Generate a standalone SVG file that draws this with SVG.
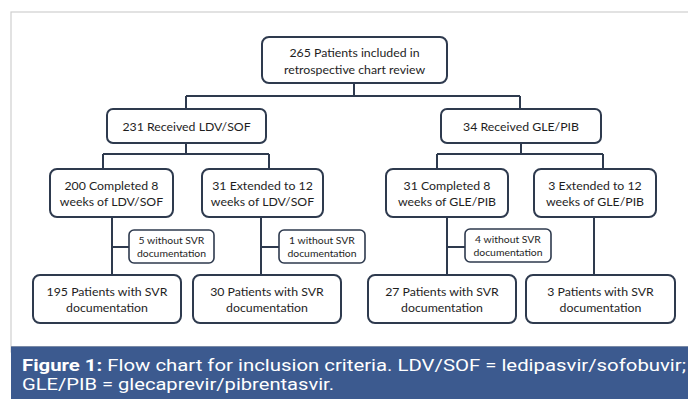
<svg xmlns="http://www.w3.org/2000/svg" width="688" height="399" viewBox="0 0 688 399">
<style>
.box{fill:#fff;stroke:#2e3a4e;stroke-width:2}
.sbox{fill:#fff;stroke:#2e3a4e;stroke-width:1.6}
.t{font-family:Lato,"Open Sans",sans-serif;font-size:12.3px;fill:#1e1e1e;text-anchor:middle}
.s{font-family:Lato,"Open Sans",sans-serif;font-size:10.4px;fill:#1e1e1e;text-anchor:middle}
.c{fill:none;stroke:#2e3a4e;stroke-width:2}
.cap{font-family:Roboto,"Liberation Sans",sans-serif;font-size:16px;fill:#fff}
</style>
<rect x="0" y="0" width="688" height="399" fill="#fff"/>
<rect x="11" y="12" width="690" height="340" fill="#fff" stroke="#cfcfcf" stroke-width="1.2"/>
<rect x="11" y="346.5" width="677" height="53" fill="#3c5a8f"/>
<line x1="11" y1="346.5" x2="688" y2="346.5" stroke="#7a8aa6" stroke-width="1"/>
<g id="connectors">
<path class="c" d="M354,83 V96 M186,96 H520 M186,96 V109 M520,96 V109"/>
<path class="c" d="M186,143 V154 M103,154 H269 M103,154 V169 M269,154 V169"/>
<path class="c" d="M521,143 V154 M437,154 H603 M437,154 V169 M603,154 V169"/>
<path class="c" d="M112,217 V275 M112,247 H129"/>
<path class="c" d="M261,217 V275 M261,247 H279"/>
<path class="c" d="M447,217 V275 M447,247 H465"/>
<path class="c" d="M594,217 V275"/>
</g>
<g id="n265"><rect class="box" x="262" y="37" width="185" height="46" rx="7"/><text class="t" x="354.5" y="57">265 Patients included in</text><text class="t" x="354.5" y="73.5">retrospective chart review</text></g>
<g id="n231"><rect class="box" x="107" y="109" width="159" height="34" rx="6"/><text class="t" x="186.5" y="130.5">231 Received LDV/SOF</text></g>
<g id="n34"><rect class="box" x="441" y="109" width="160" height="34" rx="6"/><text class="t" x="521" y="130.5">34 Received GLE/PIB</text></g>
<g id="n200"><rect class="box" x="50" y="169" width="123" height="48" rx="7"/><text class="t" x="111.5" y="189.5">200 Completed 8</text><text class="t" x="111.5" y="205.5">weeks of LDV/SOF</text></g>
<g id="n31e"><rect class="box" x="202" y="169" width="121" height="48" rx="7"/><text class="t" x="262.5" y="189.5">31 Extended to 12</text><text class="t" x="262.5" y="205.5">weeks of LDV/SOF</text></g>
<g id="n31c"><rect class="box" x="386" y="169" width="122" height="48" rx="7"/><text class="t" x="447" y="189.5">31 Completed 8</text><text class="t" x="447" y="205.5">weeks of GLE/PIB</text></g>
<g id="n3e"><rect class="box" x="534" y="169" width="122" height="48" rx="7"/><text class="t" x="595" y="189.5">3 Extended to 12</text><text class="t" x="595" y="205.5">weeks of GLE/PIB</text></g>
<g id="x5"><rect class="sbox" x="129" y="230" width="85" height="33" rx="5"/><text class="s" x="171.5" y="244">5 without SVR</text><text class="s" x="171.5" y="256.5">documentation</text></g>
<g id="x1"><rect class="sbox" x="279" y="230" width="86" height="33" rx="5"/><text class="s" x="322" y="244">1 without SVR</text><text class="s" x="322" y="256.5">documentation</text></g>
<g id="x4"><rect class="sbox" x="465" y="229" width="86" height="33" rx="5"/><text class="s" x="508" y="243">4 without SVR</text><text class="s" x="508" y="255.5">documentation</text></g>
<g id="n195"><rect class="box" x="33" y="275" width="148" height="48" rx="7"/><text class="t" x="107" y="296">195 Patients with SVR</text><text class="t" x="107" y="312">documentation</text></g>
<g id="n30"><rect class="box" x="193" y="275" width="148" height="48" rx="7"/><text class="t" x="267" y="296">30 Patients with SVR</text><text class="t" x="267" y="312">documentation</text></g>
<g id="n27"><rect class="box" x="368" y="275" width="148" height="48" rx="7"/><text class="t" x="442" y="296">27 Patients with SVR</text><text class="t" x="442" y="312">documentation</text></g>
<g id="n3p"><rect class="box" x="526" y="275" width="149" height="48" rx="7"/><text class="t" x="600.5" y="296">3 Patients with SVR</text><text class="t" x="600.5" y="312">documentation</text></g>
<text class="cap" x="22" y="371" textLength="664" lengthAdjust="spacingAndGlyphs"><tspan font-weight="bold">Figure 1:</tspan> Flow chart for inclusion criteria. LDV/SOF = ledipasvir/sofobuvir;</text>
<text class="cap" x="22" y="390" textLength="312" lengthAdjust="spacingAndGlyphs">GLE/PIB = glecaprevir/pibrentasvir.</text>
</svg>
